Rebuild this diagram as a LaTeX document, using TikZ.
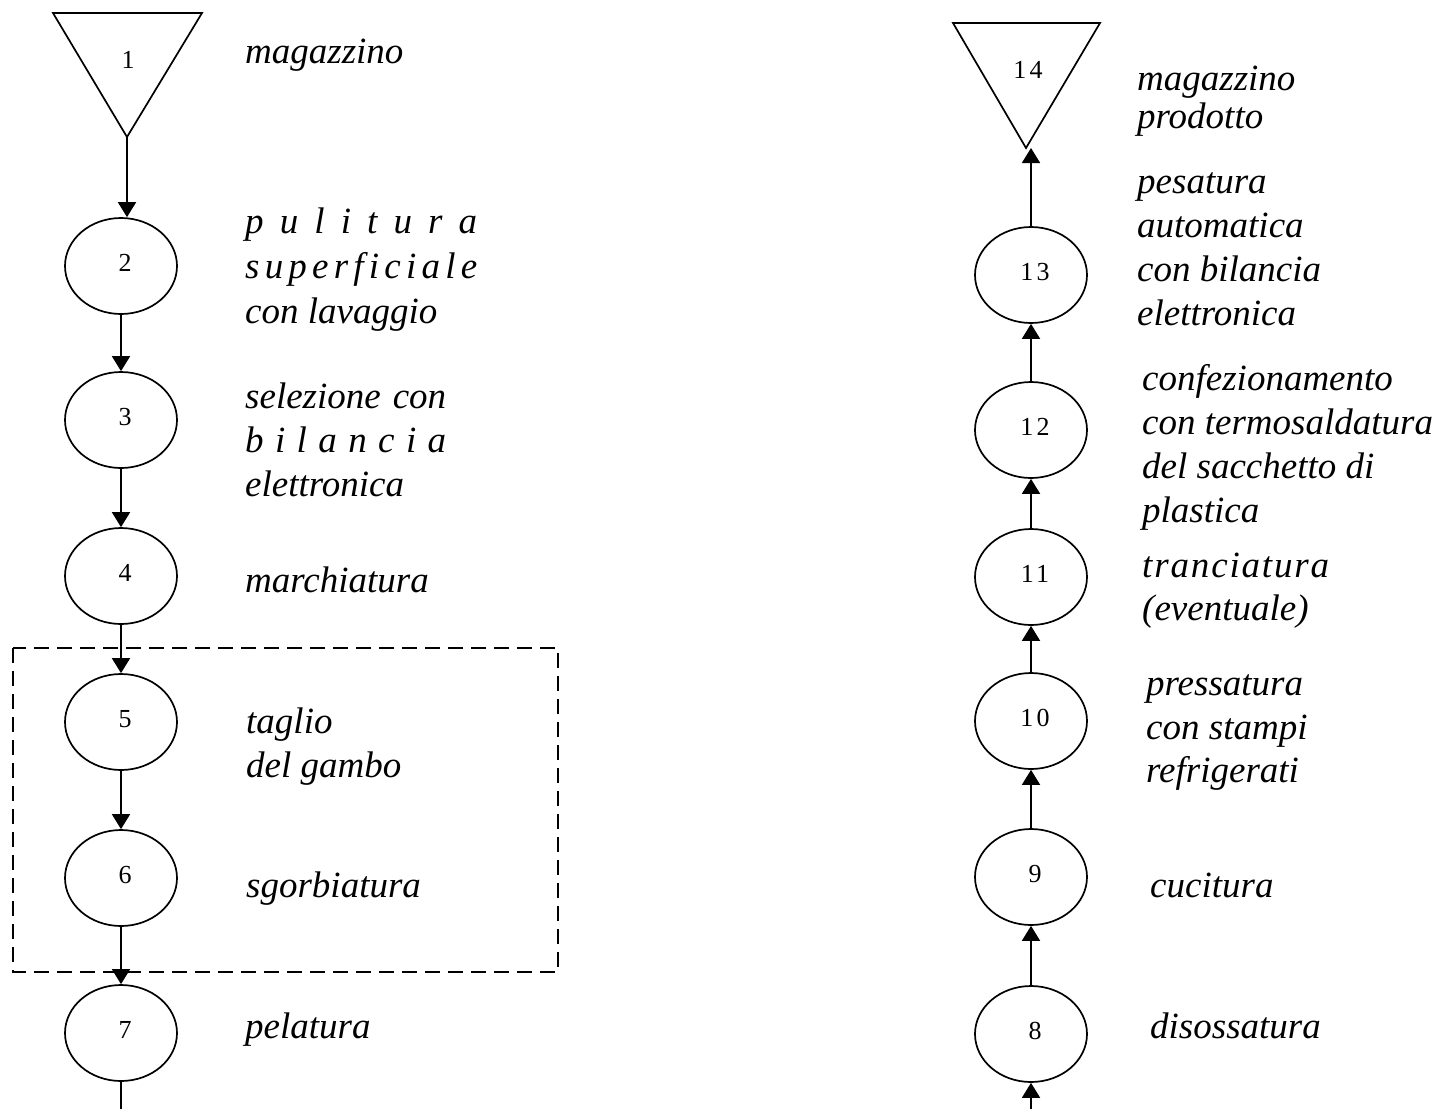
\documentclass[tikz,border=0pt]{standalone}
\usepackage{fontspec}
\setmainfont{Liberation Serif}
\newfontfamily\digitfont[LetterSpace=12]{Liberation Serif}
\usetikzlibrary{arrows.meta,shapes.geometric}
\begin{document}
\begin{tikzpicture}[x=1pt,y=-1pt,
  proc/.style={draw,ellipse,line width=1.7pt,minimum width=112pt,minimum height=96pt,inner sep=0pt},
  num/.style={inner sep=0pt,font=\digitfont\fontsize{26}{30}\selectfont},
  lbl/.style={anchor=base west,inner sep=0pt,font=\fontsize{37}{44}\selectfont\itshape},
  flow/.style={line width=1.7pt,-{Triangle[width=18pt,length=15pt]}},
  plain/.style={line width=1.7pt},
  store/.style={line width=1.7pt,line join=miter},
  phasebox/.style={line width=1.4pt,dash pattern=on 15pt off 8pt}
]
\fill[white] (0,0) rectangle (1438,1109);
\useasboundingbox (0,0) rectangle (1438,1109);

% ---------- left column: raw material down to peeling ----------
\draw[store] (53,13) -- (202,13) -- (127,137) -- cycle;
\coordinate (t1) at (127,137);
\node[num] (n1) at (128,60) {1};

\node[proc] (e2) at (121,266) {};
\node[proc] (e3) at (121,420) {};
\node[proc] (e4) at (121,576) {};
\node[proc] (e5) at (121,722) {};
\node[proc] (e6) at (121,878) {};
\node[proc] (e7) at (121,1033) {};
\foreach \k in {2,...,7}
  \node[num] (n\k) at ([shift={(4,-3)}]e\k.center) {\k};

\draw[phasebox] (13,648) rectangle (558,972);

\draw[flow] (t1) -- (t1 |- e2.north);
\draw[flow] (e2) -- (e3);
\draw[flow] (e3) -- (e4);
\draw[flow] (e4) -- (e5);
\draw[flow] (e5) -- (e6);
\draw[flow] (e6) -- (e7);
\coordinate (lout) at (121,1109);
\draw[plain] (e7) -- (lout);

\node[lbl] (l1) at (245,63) {magazzino};
\node[lbl] (l2a) at (245,233) {\hbox to 232pt{p\hfill u\hfill l\hfill i\hfill t\hfill u\hfill r\hfill a}};
\node[lbl] (l2b) at (245,278) {\hbox to 232pt{s\hfill u\hfill p\hfill e\hfill r\hfill f\hfill i\hfill c\hfill i\hfill a\hfill l\hfill e}};
\node[lbl] (l2c) at (245,323) {con lavaggio};
\node[lbl] (l3a) at (245,408) {\hbox to 201pt{selezione\hfill con}};
\node[lbl] (l3b) at (245,452) {\hbox to 201pt{b\hfill i\hfill l\hfill a\hfill n\hfill c\hfill i\hfill a}};
\node[lbl] (l3c) at (245,496) {elettronica};
\node[lbl] (l4) at (245,592) {marchiatura};
\node[lbl] (l5a) at (246,733) {taglio};
\node[lbl] (l5b) at (246,777) {del gambo};
\node[lbl] (l6) at (246,897) {sgorbiatura};
\node[lbl] (l7) at (245,1038) {pelatura};

% ---------- right column: boning up to finished-goods store ----------
\draw[store] (953,23) -- (1100,23) -- (1026,148) -- cycle;
\coordinate (t14) at (1026,148);
\node[num] (n14) at (1028,70) {14};

\node[proc] (e13) at (1031,275) {};
\node[proc] (e12) at (1031,430) {};
\node[proc] (e11) at (1031,577) {};
\node[proc] (e10) at (1031,721) {};
\node[proc] (e9) at (1031,877) {};
\node[proc] (e8) at (1031,1034) {};
\foreach \k in {8,...,13}
  \node[num] (n\k) at ([shift={(4,-3)}]e\k.center) {\k};

\coordinate (rin) at (1031,1109);
\draw[flow] (rin) -- (e8);
\draw[flow] (e8) -- (e9);
\draw[flow] (e9) -- (e10);
\draw[flow] (e10) -- (e11);
\draw[flow] (e11) -- (e12);
\draw[flow] (e12) -- (e13);
\draw[flow] (e13) -- (e13.north |- t14);

\node[lbl] (r14a) at (1137,90) {magazzino};
\node[lbl] (r14b) at (1137,128) {prodotto};
\node[lbl] (r13a) at (1137,193) {pesatura};
\node[lbl] (r13b) at (1137,237) {automatica};
\node[lbl] (r13c) at (1137,281) {con bilancia};
\node[lbl] (r13d) at (1137,325) {elettronica};
\node[lbl] (r12a) at (1142,390) {confezionamento};
\node[lbl] (r12b) at (1142,434) {con termosaldatura};
\node[lbl] (r12c) at (1142,478) {del sacchetto di};
\node[lbl] (r12d) at (1142,522) {plastica};
\node[lbl] (r11a) at (1142,577) {\hbox to 187pt{t\hfill r\hfill a\hfill n\hfill c\hfill i\hfill a\hfill t\hfill u\hfill r\hfill a}};
\node[lbl] (r11b) at (1142,620) {(eventuale)};
\node[lbl] (r10a) at (1146,695) {pressatura};
\node[lbl] (r10b) at (1146,739) {con stampi};
\node[lbl] (r10c) at (1146,782) {refrigerati};
\node[lbl] (r9) at (1150,897) {cucitura};
\node[lbl] (r8) at (1150,1038) {disossatura};
\end{tikzpicture}
\end{document}
